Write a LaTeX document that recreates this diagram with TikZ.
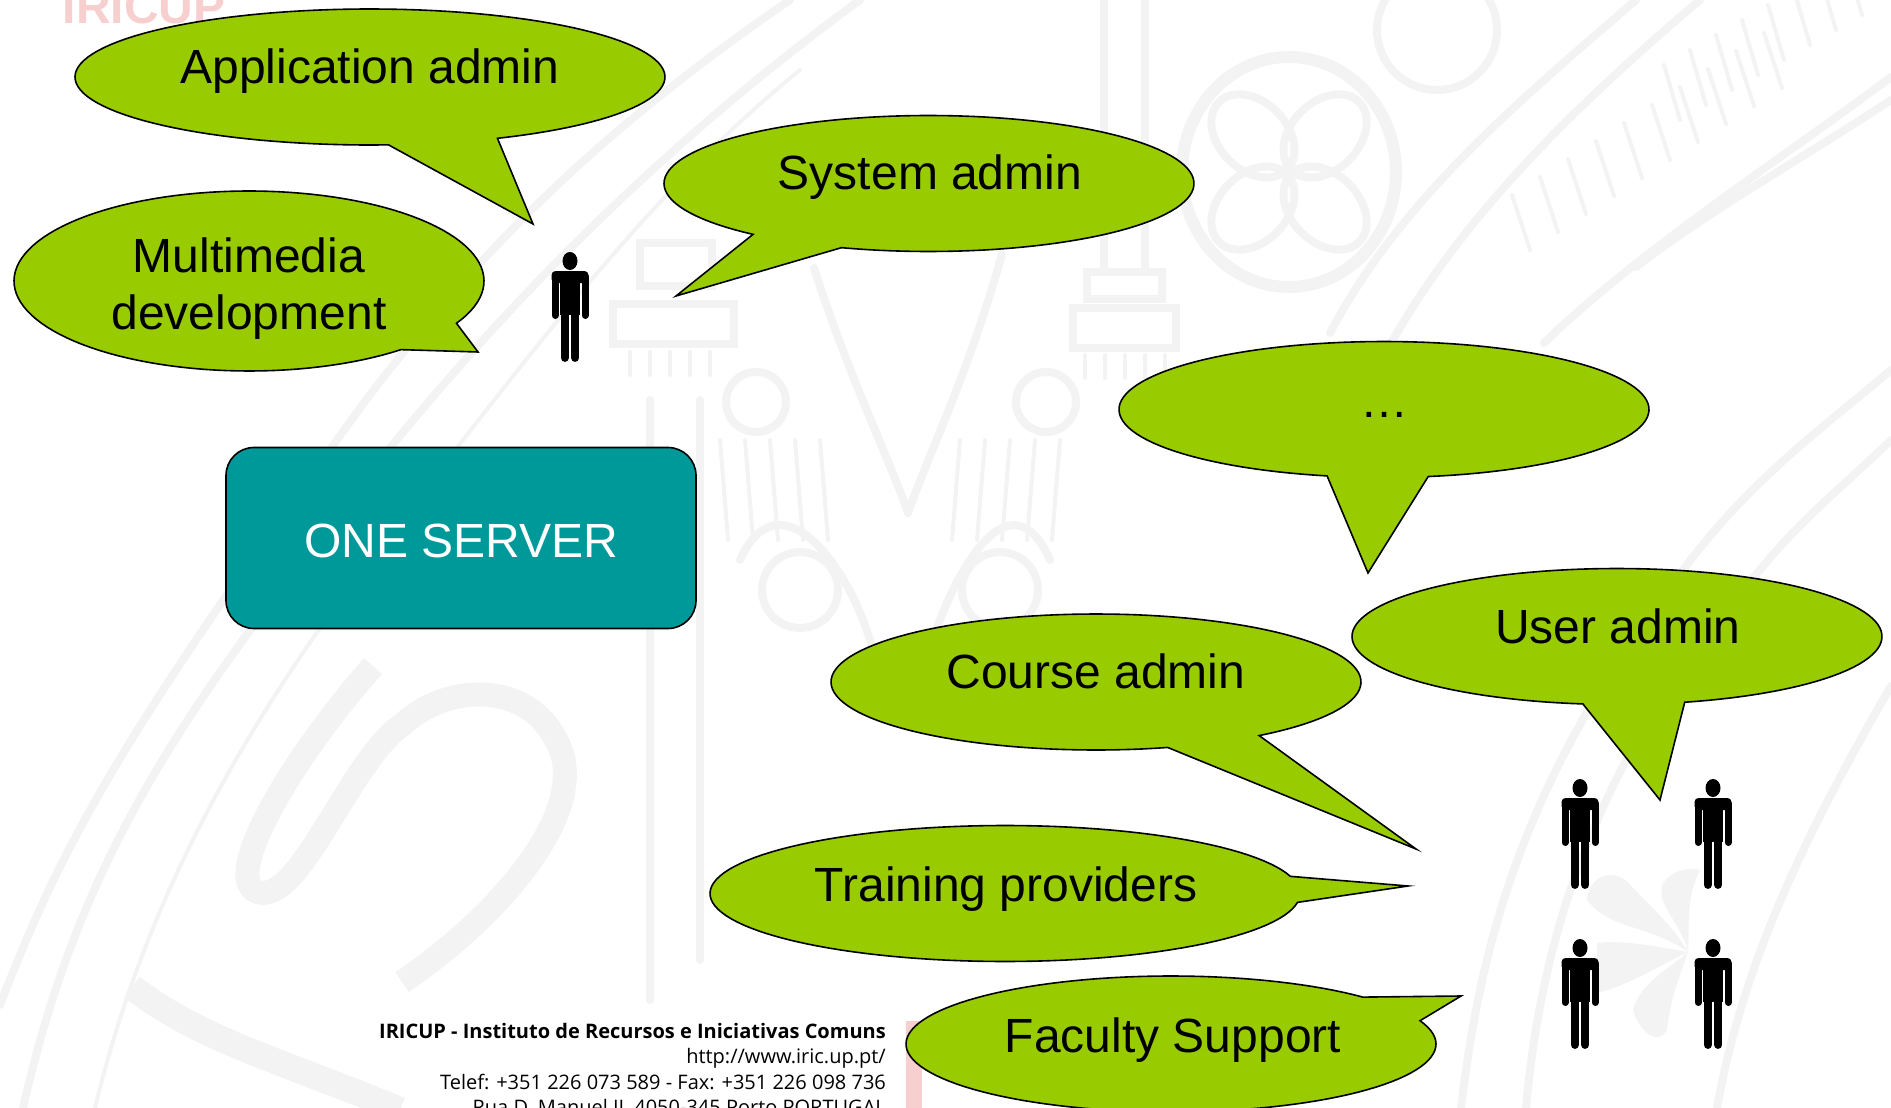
\documentclass[tikz,border=0pt]{standalone}
\usepackage{fontspec}
\setmainfont{Liberation Sans}
\newfontfamily\footfont{Open Sans}
\usetikzlibrary{calc}
\definecolor{mygreen}{HTML}{99CC00}
\definecolor{myteal}{HTML}{009999}
\definecolor{mywm}{HTML}{F3F3F3}
\definecolor{mypink}{HTML}{F8CFCF}
\tikzset{
  wm/.style={draw=mywm, line width=8pt, line cap=round},
  wmthin/.style={draw=mywm, line width=4pt, line cap=round},
  speech/.style={font=\fontsize{48}{58}\selectfont, anchor=base, align=center},
  person/.pic={
    \fill (0,0) ellipse [x radius=7.5pt, y radius=9pt];
    \fill[rounded corners=4pt] (-18.5,22) -- (-18.5,10) -- (18.5,10) -- (18.5,22) -- cycle;
    \fill (-10,12) rectangle (10,54);
    \draw[line width=7pt, line cap=round] (-15,16) -- (-15,54.5);
    \draw[line width=7pt, line cap=round] (15,16) -- (15,54.5);
    \draw[line width=8.5pt, line cap=round] (-5.2,50) -- (-5.2,96.7);
    \draw[line width=8.5pt, line cap=round] (5.2,50) -- (5.2,96.7);
  }
}
% centre x, centre y, x radius, y radius, first angle, last angle, tip
\newcommand{\bubble}[7]{
  \filldraw[fill=mygreen, draw=black, line width=1.6pt, line join=miter]
    plot[domain=#5:#6, samples=120, variable=\t] ({#1+#3*cos(\t)},{#2+#4*sin(\t)}) -- #7 -- cycle;
}

\begin{document}
\begin{tikzpicture}[x=1pt, y=-1pt]
    \useasboundingbox (0,0) rectangle (1891,1108);
    \clip (0,0) rectangle (1891,1108);

    % watermark
    \draw[wm] (0,1005) .. controls (60,850) and (115,743) .. (366,400) .. controls (480,250) and (600,130) .. (790,0);
    \draw[wm] (23,1108) .. controls (70,900) and (150,760) .. (287,581) .. controls (420,400) and (600,190) .. (860,0);
    \draw[wmthin] (95,1108) .. controls (150,880) and (260,700) .. (400,520) .. controls (520,370) and (640,200) .. (800,70);
    \draw[line width=24pt, draw=mywm, line cap=butt] (373,666) .. controls (290,760) and (220,880) .. (258,892)
      .. controls (300,905) and (350,760) .. (402,725) .. controls (450,680) and (540,680) .. (563,757)
      .. controls (580,830) and (480,930) .. (402,982);
    \draw[line width=26pt, draw=mywm] (132,987) .. controls (200,1040) and (280,1060) .. (400,1110);
    \draw[wm] (650,400) -- (650,1000);
    \draw[wm] (700,400) -- (700,960);
    \draw[wm] (1104,0) -- (1104,270);
    \draw[wm] (1145,0) -- (1145,270);
    \draw[wm] (613,304) rectangle (734,344);
    \draw[wm] (640,243) rectangle (712,286);
    \draw[wm] (1073,308) rectangle (1176,348);
    \draw[wm] (1087,272) rectangle (1162,299);
    \foreach \hx in {630,650,...,720}
      \draw[wmthin] (\hx,352) -- (\hx,375);
    \foreach \hx in {1085,1105,...,1170}
      \draw[wmthin] (\hx,355) -- (\hx,378);
    \foreach \hx in {720,745,...,840}
      \draw[wmthin] (\hx,440) -- (\hx+8,540);
    \foreach \hx in {960,985,...,1080}
      \draw[wmthin] (\hx,440) -- (\hx-8,540);
    \draw[wm] (814,268) .. controls (850,380) and (890,460) .. (908,513);
    \draw[wm] (1002,254) .. controls (970,370) and (930,450) .. (908,513);
    \draw[wm] (756,402) circle (30pt);
    \draw[wm] (1046,402) circle (30pt);
    \draw[wm] (740,560) .. controls (780,470) and (860,570) .. (880,680);
    \draw[wm] (1050,560) .. controls (1010,470) and (950,570) .. (920,680);
    \draw[wm] (800,590) circle (38pt);
    \draw[wm] (1000,590) circle (38pt);
    \draw[draw=mywm, line width=12pt] (1289,172) ellipse [x radius=107pt, y radius=115pt];
    \foreach \ang in {45,135,225,315}
      \draw[wm, rotate around={\ang:(1289,172)}] (1340,172) ellipse [x radius=48pt, y radius=34pt];
    \draw[wm] (1437,30) circle (60pt);
    \draw[wm] (1330,333) .. controls (1400,200) and (1520,100) .. (1636,0);
    \draw[wm] (1390,345) .. controls (1460,220) and (1570,110) .. (1700,0);
    \draw[wm] (1544,343) .. controls (1640,250) and (1780,160) .. (1891,77);
    \draw[wm] (1636,267) .. controls (1710,210) and (1800,160) .. (1891,100);
    \foreach \hs in {0,1,...,9}
      \draw[wmthin] (1530+\hs*28,250-\hs*18) -- ++(-18,-55);
    \foreach \hs in {0,1,...,7}
      \draw[wmthin] (1680+\hs*26,120-\hs*15) -- ++(-16,-55);
    \draw[wm] (1461,1108) .. controls (1480,950) and (1520,780) .. (1683,570) .. controls (1750,480) and (1820,430) .. (1891,370);
    \draw[wm] (1526,1108) .. controls (1540,950) and (1590,760) .. (1760,570) .. controls (1800,520) and (1850,480) .. (1891,440);
    \draw[wm] (1717,1108) .. controls (1740,980) and (1790,860) .. (1891,686);
    \fill[mywm] (1688,952) .. controls (1650,925) and (1610,930) .. (1587,900) .. controls (1590,870) and (1620,870) .. (1630,885) .. controls (1660,915) and (1675,930) .. cycle;
    \fill[mywm] (1688,952) .. controls (1650,945) and (1620,940) .. (1597,943) -- (1597,993) .. controls (1630,985) and (1660,965) .. cycle;
    \fill[mywm] (1688,952) .. controls (1660,975) and (1640,985) .. (1633,1010) .. controls (1640,1035) and (1660,1045) .. (1667,1030) .. controls (1670,1000) and (1680,975) .. cycle;
    \fill[mywm] (1688,952) .. controls (1680,920) and (1655,905) .. (1663,883) .. controls (1675,868) and (1690,868) .. (1700,870) .. controls (1685,900) and (1690,925) .. cycle;

    % logo and footer
    \node[anchor=base, font=\fontsize{48}{48}\selectfont\bfseries, text=mypink, inner sep=0pt] (logo) at (144,24) {IRICUP};
    \fill[mypink] (906,1021) rectangle (922,1108);
    \node[anchor=north east, align=right, inner sep=0pt, font=\footfont\fontsize{20}{25.3}\selectfont] (footer) at (886,1023)
      {\textbf{IRICUP - Instituto de Recursos e Iniciativas Comuns}\\
       http://www.iric.up.pt/\\
       Telef: +351 226 073 589 - Fax: +351 226 098 736\\
       Rua D. Manuel II, 4050-345 Porto PORTUGAL};

    % bubbles
    \bubble{370}{77}{295}{68}{86.4}{424.4}{(533,224)}
    \bubble{249}{281}{235}{90}{49.7}{388}{(478,352)}
    \bubble{929}{183.5}{265}{68}{131.6}{469.3}{(676,296)}
    \bubble{1384}{409.5}{265}{68}{102.4}{440.4}{(1368,573)}
    \bubble{1617}{636.5}{265}{68}{97.4}{435.2}{(1660,800)}
    \bubble{1096}{682}{265}{68}{74.3}{412}{(1416,849)}
    \bubble{1005}{893.5}{295}{68}{7.5}{345.4}{(1408,886)}
    \bubble{1171}{1044}{265}{68}{-20}{316.4}{(1461,996)}

    \node[speech] (app) at (370,84) {Application admin};
    \node[speech] (media) at (249,272) {Multimedia};
    \node[speech] (media2) at (249,329) {development};
    \node[speech] (sys) at (930,189) {System admin};
    \node[speech] (dots) at (1384,417) {\dots};
    \node[speech] (user) at (1618,643) {User admin};
    \node[speech] (course) at (1096,688) {Course admin};
    \node[speech] (train) at (1006,901) {Training providers};
    \node[speech] (faculty) at (1173,1052) {Faculty Support};

    \node[fill=myteal, draw=black, line width=1.6pt, rounded corners=28pt, minimum width=470pt, minimum height=181pt,
      text=white, text height=33pt, text depth=0pt, font=\fontsize{48}{58}\selectfont] (server) at (461,538) {\raisebox{-3pt}{ONE SERVER}};

    \pic at (570,261) {person};
    \foreach \px in {1580,1713}
      \foreach \py in {788,948}
        \pic at (\px,\py) {person};
\end{tikzpicture}
\end{document}
